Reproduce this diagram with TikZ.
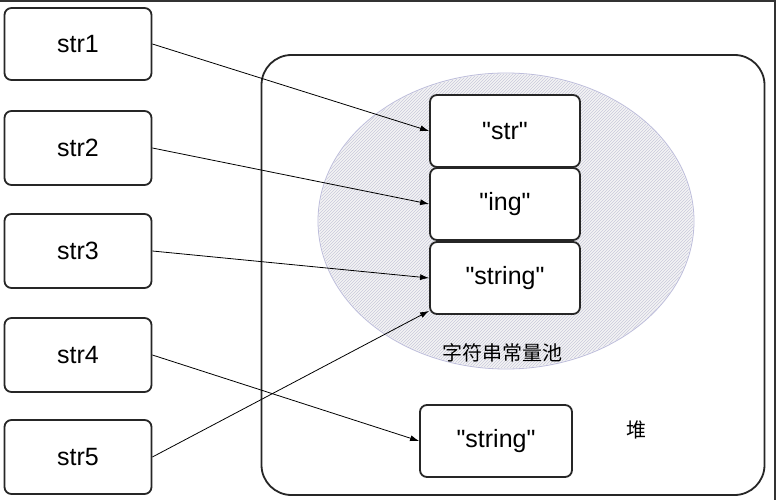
\documentclass[tikz,border=0pt]{standalone}
\usepackage{fontspec}
\setmainfont{Liberation Sans}
\newfontfamily\cjk{Noto Sans CJK SC}
\usetikzlibrary{patterns,arrows.meta,shapes.geometric}
\newcommand{\qq}[1]{\textquotedbl#1\textquotedbl}
\begin{document}
\begin{tikzpicture}[x=1pt,y=-1pt,
 box/.style={draw=black!85,line width=1.8pt,rounded corners=7pt,fill=white},
 lbl/.style={font=\fontsize{25}{27}\selectfont},
 arr/.style={-{Latex[length=9pt,width=6pt]},line width=0.8pt}]
\useasboundingbox (0,0) rectangle (776,500);
\fill[white] (0,0) rectangle (776,500);
\draw[line width=2pt,black!80] (0,1) -- (776,1) (775,0) -- (775,500);
\node[box,minimum width=147pt,minimum height=72pt] (s1) at (78,44) {};
\node[box,minimum width=147pt,minimum height=74pt] (s2) at (78,148) {};
\node[box,minimum width=147pt,minimum height=74pt] (s3) at (78,251) {};
\node[box,minimum width=147pt,minimum height=74pt] (s4) at (78,355) {};
\node[box,minimum width=147pt,minimum height=74pt] (s5) at (78,457) {};
\node[lbl] at (s1) {str1};\node[lbl] at (s2) {str2};\node[lbl] at (s3) {str3};\node[lbl] at (s4) {str4};\node[lbl] at (s5) {str5};
\node[draw=black!85,line width=1.8pt,rounded corners=30pt,minimum width=503pt,minimum height=440pt] (heap) at (513,275) {};
\node[draw=blue!30!gray!40,line width=0.8pt,ellipse,fill=blue!5!gray!8,minimum width=376pt,minimum height=296pt] (pool) at (506,221) {};
\fill[pattern=north east lines,pattern color=blue!20!gray!35] (506,221) ellipse (187pt and 147pt);
\node[box,minimum width=150pt,minimum height=72pt] (a) at (505,131) {};
\node[box,minimum width=150pt,minimum height=72pt] (b) at (505,204) {};
\node[box,minimum width=150pt,minimum height=72pt] (c) at (505,278) {};
\node[lbl] at (a) {\qq{str}};\node[lbl] at (b) {\qq{ing}};\node[lbl] at (c) {\qq{string}};
\node[font=\cjk\fontsize{20}{22}\selectfont] (pl) at (502,353) {字符串常量池};
\node[box,minimum width=152pt,minimum height=72pt] (d) at (496,441) {};
\node[lbl] at (d) {\qq{string}};
\node[font=\cjk\fontsize{20}{22}\selectfont] (dui) at (636,430) {堆};
\draw[arr] (s1.east) -- (a.west);
\draw[arr] (s2.east) -- (b.west);
\draw[arr] (s3.east) -- (c.west);
\draw[arr] (s4.east) -- (d.west);
\draw[arr] (s5.east) -- ([yshift=4pt]c.south west);
\end{tikzpicture}
\end{document}
